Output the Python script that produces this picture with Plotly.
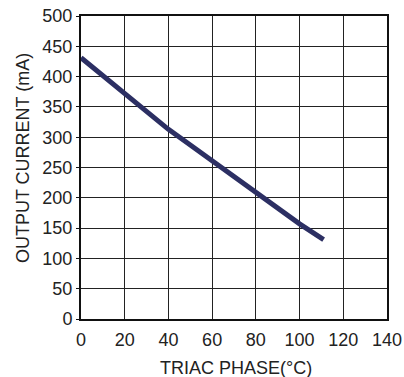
import plotly.graph_objects as go

phase = [0, 10, 20, 30, 40, 50, 60, 70, 80, 90, 100, 111]
current = [431, 401, 371, 341, 313, 287, 261, 235, 208, 182, 157, 131]

x_ticks = [0, 20, 40, 60, 80, 100, 120, 140]
y_ticks = [0, 50, 100, 150, 200, 250, 300, 350, 400, 450, 500]

fig = go.Figure()
fig.add_trace(go.Scatter(
    x=phase, y=current, mode="lines",
    line=dict(color="#2c2f63", width=5),
    showlegend=False,
))

font = dict(family="Liberation Sans, Arial, sans-serif", size=18, color="#222222")

fig.update_layout(
    width=404, height=377,
    margin=dict(l=81, r=17, t=16, b=58),
    paper_bgcolor="white", plot_bgcolor="white",
    font=font,
    xaxis=dict(
        range=[0, 140], tickvals=x_ticks, showgrid=True, gridcolor="#222222", gridwidth=1,
        showline=True, linecolor="#111111", linewidth=2, mirror=True,
        zeroline=False, ticks="", ticklabelstandoff=3, automargin=False,
        ticklabeloverflow="allow",
    ),
    yaxis=dict(
        range=[0, 500], tickvals=y_ticks, showgrid=True, gridcolor="#222222", gridwidth=1,
        showline=True, linecolor="#111111", linewidth=2, mirror=True,
        zeroline=False, ticks="outside", ticklen=3, tickcolor="#111111",
        ticklabelstandoff=0, automargin=False, ticklabeloverflow="allow",
    ),
    annotations=[
        dict(text="TRIAC PHASE(°C)", xref="paper", yref="paper", x=0.5, y=0,
             xshift=2, yshift=-49, xanchor="center", yanchor="middle",
             showarrow=False, font=font),
        dict(text="OUTPUT CURRENT (mA)", xref="paper", yref="paper", x=0, y=0.531,
             xshift=-58, xanchor="center", yanchor="middle", textangle=-90,
             showarrow=False, font=font),
    ],
)

fig.write_html(
    "out.html",
    config={"displayModeBar": False},
    post_script="document.body.style.margin='0';document.body.style.overflow='hidden';",
)
